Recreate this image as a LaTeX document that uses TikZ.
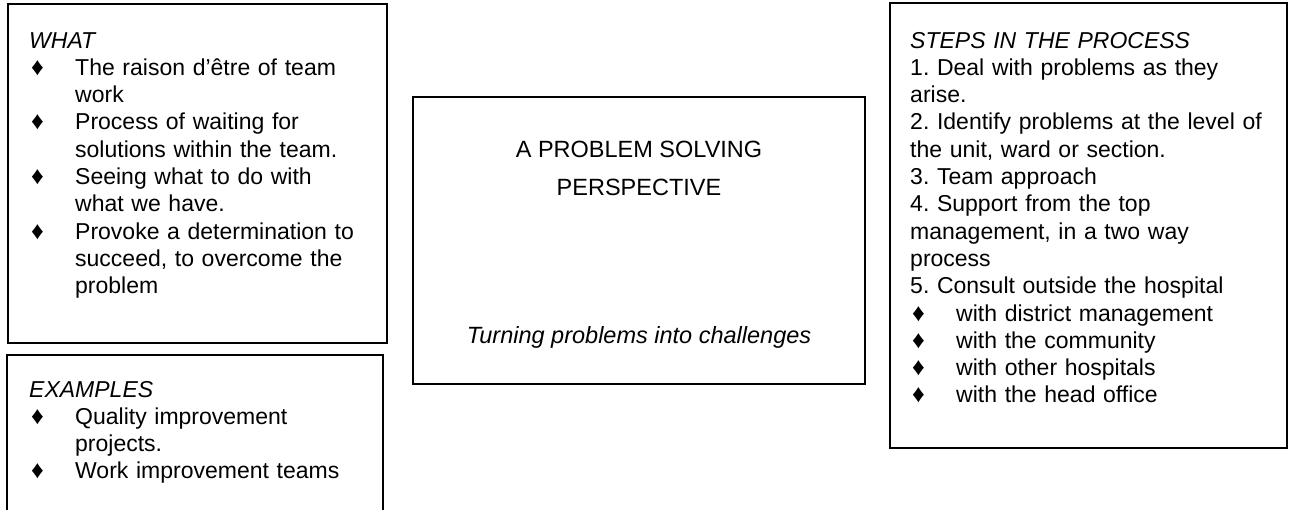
\documentclass[tikz,border=0pt]{standalone}
\usepackage{fontspec}
\setmainfont{Liberation Sans}
\newcommand\dia{{\fontsize{25}{25}\selectfont\raisebox{0pt}{♦}}}
\newcommand\bitem[1]{\par\hangindent=46pt\hangafter=1\noindent\makebox[46pt][l]{\hspace{2pt}\dia}#1\par}
\begin{document}
\begin{tikzpicture}[x=1pt,y=-1pt,
  boxline/.style={draw=black,line width=1.6pt},
  txt/.style={anchor=base west,inner sep=0pt,text width=#1,
    font=\fontsize{23}{27.3}\selectfont\frenchspacing},
  ctxt/.style={inner sep=0pt,align=center,font=\fontsize{23.5}{38}\selectfont}]
\path[use as bounding box,clip] (0,0) rectangle (1292,509);
\fill[white] (0,0) rectangle (1292,509);
% boxes
\draw[boxline] (8,4) rectangle (387,343) coordinate (whatbox);
\draw[boxline] (7,355) rectangle (383,540) coordinate (exbox);
\draw[boxline] (413,97) rectangle (865,384) coordinate (cbox);
\draw[boxline] (890,3) rectangle (1287,448) coordinate (stepbox);
% WHAT
\node[txt=355pt] (what) at (29,48) {\raggedright\parindent0pt\noindent\textit{WHAT}\par
\bitem{The raison d’être of team\newline work}
\bitem{Process of waiting for\newline solutions within the team.}
\bitem{Seeing what to do with\newline what we have.}
\bitem{Provoke a determination to\newline succeed, to overcome the\newline problem}};
% EXAMPLES
\node[txt=350pt] (examples) at (29,397) {\raggedright\parindent0pt\noindent\textit{EXAMPLES}\par
\bitem{Quality improvement\newline projects.}
\bitem{Work improvement teams}};
% centre
\node[ctxt,anchor=base] (title) at (639,195) {A PROBLEM SOLVING\\PERSPECTIVE};
\node[ctxt,anchor=base] (sub) at (639,343) {\textit{Turning problems into challenges}};
% STEPS
\node[txt=375pt] (steps) at (910,48) {\raggedright\parindent0pt\noindent\textit{STEPS IN THE PROCESS}\newline
1. Deal with problems as they\newline arise.\newline
2. Identify problems at the level of\newline the unit, ward or section.\newline
3. Team approach\newline
4. Support from the top\newline management, in a two way\newline process\newline
5. Consult outside the hospital\par
\bitem{with district management}
\bitem{with the community}
\bitem{with other hospitals}
\bitem{with the head office}};
\end{tikzpicture}
\end{document}
